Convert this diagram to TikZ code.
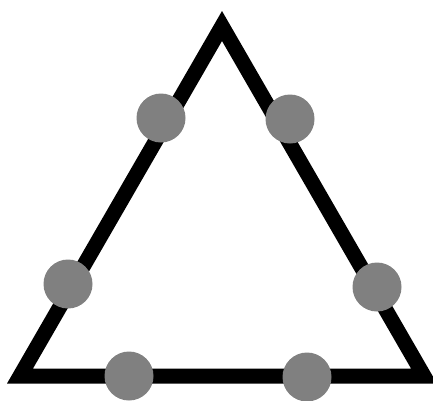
\documentclass[tikz,border=0pt]{standalone}
\definecolor{dotGrey}{HTML}{808080}

\begin{document}
\begin{tikzpicture}[x=1pt, y=-1pt,
        rand/.style={draw=black, line width=15pt, line join=miter},
        punkt/.style={circle, fill=dotGrey, inner sep=0pt, minimum size=49pt}]
        \useasboundingbox (0,0) rectangle (433,400);
        \coordinate (A) at (222,26);
        \coordinate (B) at (20,376);
        \coordinate (C) at (424,376);
        \draw[rand] (A) -- (B) -- (C) -- cycle;
        % Punkte auf den Seiten
        \foreach \n/\x/\y in {ab1/161/118, ab2/68/284, ac1/290/119,
                              ac2/377/287, bc1/129/376, bc2/307/377}
          \node[punkt] (\n) at (\x,\y) {};
      \end{tikzpicture}
\end{document}
